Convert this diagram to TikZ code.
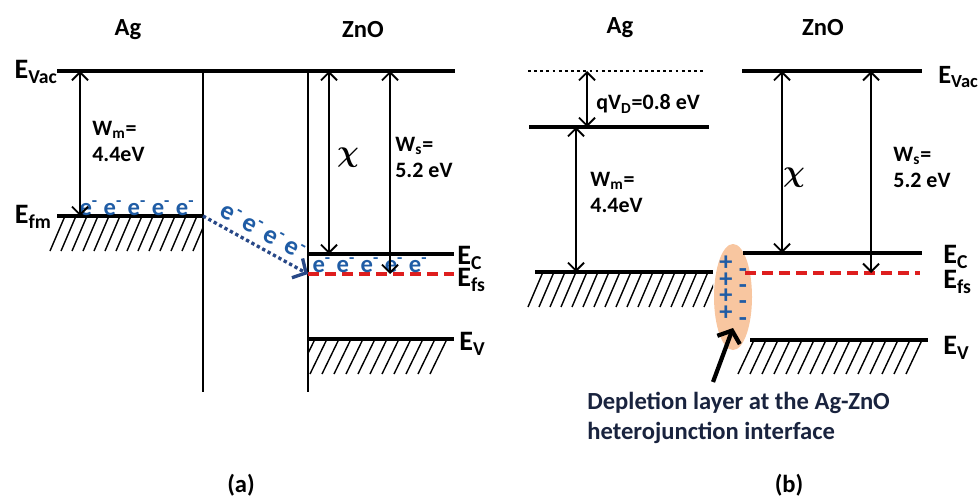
\documentclass[tikz,border=0pt]{standalone}
\usepackage{fontspec}
\setmainfont{Carlito}
\usetikzlibrary{arrows.meta,shapes.geometric}

\definecolor{eblue}{RGB}{31,92,165}
\definecolor{flowblue}{RGB}{40,72,135}
\definecolor{fsred}{RGB}{222,30,30}
\definecolor{deplfill}{RGB}{248,198,160}
\definecolor{navy}{RGB}{25,35,62}

\begin{document}
\begin{tikzpicture}[x=0.2mm, y=-0.2mm,
	>={Straight Barb[length=1.6mm,width=3.2mm]},
	level/.style={line width=1.9pt},
	wall/.style={line width=1.6pt},
	dimarr/.style={<->, line width=1.1pt},
	hatchline/.style={line width=0.8pt},
	fermi/.style={fsred, line width=1.9pt, dash pattern=on 2.2mm off 1.2mm},
	title/.style={font=\bfseries\fontsize{14}{16}\selectfont},
	elabel/.style={font=\bfseries\fontsize{16}{18}\selectfont, anchor=west, inner sep=0pt},
	wlabel/.style={font=\bfseries\fontsize{12.5}{15}\selectfont, align=left, anchor=north west, inner sep=0pt},
	chilabel/.style={font=\boldmath\fontsize{16}{18}\selectfont},
	electron/.style={font=\bfseries\fontsize{14}{15}\selectfont, text=eblue, inner sep=0pt},
	charge/.style={font=\bfseries\fontsize{15}{15}\selectfont, text=eblue, inner sep=0pt, text height=1.2ex, text depth=0pt}]
	\useasboundingbox (0,0) rectangle (979,496);
	
	% ===== (a) before contact =====
	\node[title] (agA) at (128,30) {Ag};
	\node[title] (znoA) at (363,30) {ZnO};
	
	% Vacuum level and the two walls
	\coordinate (vacA1) at (57,71); \coordinate (vacA2) at (455,71);
	\draw[level] (vacA1) -- (vacA2);
	\coordinate (wallA1) at (203,71); \coordinate (wallA2) at (203,392);
	\coordinate (wallA3) at (308,71); \coordinate (wallA4) at (308,392);
	\draw[wall] (wallA1) -- (wallA2) (wallA3) -- (wallA4);
	\node[elabel, anchor=east] (evacA) at (58,72) {E\textsubscript{Vac}};
	
	% Ag Fermi level with hatching
	\coordinate (fmA1) at (57,216); \coordinate (fmA2) at (203,216);
	\draw[level] (fmA1) -- (fmA2);
	\node[elabel, anchor=east] (efmA) at (52,217) {E\textsubscript{fm}};
	\begin{scope}
		\clip (45,216) rectangle (203,251);
		\foreach \x in {50,61,...,200} \draw[hatchline] (\x,251) -- ++(15,-35);
	\end{scope}
	\node[electron] (eAgA) at (137,208) {e\textsuperscript{-} e\textsuperscript{-} e\textsuperscript{-} e\textsuperscript{-} e\textsuperscript{-}};
	
	% ZnO levels
	\coordinate (ecA1) at (308,254); \coordinate (ecA2) at (454,254);
	\coordinate (fsA1) at (308,274); \coordinate (fsA2) at (454,274);
	\coordinate (evA1) at (308,339); \coordinate (evA2) at (454,339);
	\draw[level] (ecA1) -- (ecA2);
	\draw[fermi] (fsA1) -- (fsA2);
	\draw[level] (evA1) -- (evA2);
	\begin{scope}
		\clip (308,339) rectangle (456,374);
		\foreach \x in {298,310,...,440} \draw[hatchline] (\x,374) -- ++(17,-35);
	\end{scope}
	\node[elabel] (ecA) at (457,258) {E\textsubscript{C}};
	\node[elabel] (efsA) at (457,280) {E\textsubscript{fs}};
	\node[elabel] (evA) at (459,344) {E\textsubscript{V}};
	\node[electron] (eZnoA) at (370,265) {e\textsuperscript{-} e\textsuperscript{-} e\textsuperscript{-} e\textsuperscript{-} e\textsuperscript{-}};
	
	% Work functions and electron affinity
	\coordinate (wmA1) at (80,71); \coordinate (wmA2) at (80,216);
	\draw[dimarr] (wmA1) -- (wmA2);
	\node[wlabel] (wmA) at (92,121) {W\textsubscript{m}=\\4.4eV};
	\coordinate (chiA1) at (329,71); \coordinate (chiA2) at (329,254);
	\draw[dimarr] (chiA1) -- (chiA2);
	\node[chilabel] (chiA) at (348,158) {$\chi$};
	\coordinate (wsA1) at (390,71); \coordinate (wsA2) at (390,274);
	\draw[dimarr] (wsA1) -- (wsA2);
	\node[wlabel] (wsA) at (395,137) {W\textsubscript{s}=\\5.2 eV};
	
	% Electron flow from Ag into ZnO
	\draw[flowblue, line width=1.9pt, dash pattern=on 1.9pt off 1.6pt, -{Straight Barb[length=2mm,width=4.4mm]}]
		(fmA2) -- (fsA1) node[midway, sloped, above=1.2mm, electron, font=\bfseries\fontsize{15}{15}\selectfont] (eflowA) {e\textsuperscript{-}\,e\textsuperscript{-}\,e\textsuperscript{-}\,e\textsuperscript{-}};
	
	\node[title] (capA) at (241,485) {(a)};
	
	% ===== (b) after contact =====
	\node[title] (agB) at (620,28) {Ag};
	\node[title] (znoB) at (823,28) {ZnO};
	
	% Ag side
	\coordinate (oldB1) at (528,71); \coordinate (oldB2) at (706,71);
	\draw[line width=1.6pt, dash pattern=on 1.6pt off 1.9pt] (oldB1) -- (oldB2);
	\coordinate (vacB1) at (529,127); \coordinate (vacB2) at (709,127);
	\draw[level] (vacB1) -- (vacB2);
	\coordinate (fmB1) at (535,272); \coordinate (fmB2) at (713,272);
	\draw[level] (fmB1) -- (fmB2);
	\begin{scope}
		\clip (525,272) rectangle (713,307);
		\foreach \x in {528,539,...,710} \draw[hatchline] (\x,307) -- ++(15,-35);
	\end{scope}
	\coordinate (vdB1) at (587,71); \coordinate (vdB2) at (587,127);
	\draw[dimarr] (vdB1) -- (vdB2);
	\node[wlabel, anchor=west] (vdB) at (596,104) {qV\textsubscript{D}=0.8 eV};
	\coordinate (wmB1) at (576,127); \coordinate (wmB2) at (576,272);
	\draw[dimarr] (wmB1) -- (wmB2);
	\node[wlabel] (wmB) at (590,172) {W\textsubscript{m}=\\4.4eV};
	
	% Depletion layer at the interface
	\node[ellipse, fill=deplfill, minimum width=7.6mm, minimum height=21.2mm, inner sep=0pt] (deplB) at (733,297) {};
	\foreach \y in {265,282,298,315} \node[charge] at (726,\y) {+};
	\foreach \y in {272,288,304,321} \node[charge] at (743,\y) {-};
	
	% ZnO side
	\coordinate (vacB3) at (742,71); \coordinate (vacB4) at (922,71);
	\draw[level] (vacB3) -- (vacB4);
	\node[elabel, font=\bfseries\fontsize{15}{18}\selectfont] (evacB) at (938,77) {E\textsubscript{Vac}};
	\coordinate (ecB1) at (743,253); \coordinate (ecB2) at (922,253);
	\coordinate (fsB1) at (745,273); \coordinate (fsB2) at (920,273);
	\coordinate (evB1) at (750,340); \coordinate (evB2) at (928,340);
	\draw[level] (ecB1) -- (ecB2);
	\draw[fermi] (fsB1) -- (fsB2);
	\draw[level] (evB1) -- (evB2);
	\begin{scope}
		\clip (735,340) rectangle (928,374);
		\foreach \x in {738,750,...,915} \draw[hatchline] (\x,374) -- ++(16,-34);
	\end{scope}
	\node[elabel] (ecB) at (943,257) {E\textsubscript{C}};
	\node[elabel] (efsB) at (943,282) {E\textsubscript{fs}};
	\node[elabel] (evB) at (943,348) {E\textsubscript{V}};
	\coordinate (chiB1) at (782,71); \coordinate (chiB2) at (782,253);
	\draw[dimarr] (chiB1) -- (chiB2);
	\node[chilabel] (chiB) at (794,178) {$\chi$};
	\coordinate (wsB1) at (871,71); \coordinate (wsB2) at (871,273);
	\draw[dimarr] (wsB1) -- (wsB2);
	\node[wlabel] (wsB) at (893,147) {W\textsubscript{s}=\\5.2 eV};
	
	% Pointer to the depletion layer
	\node[font=\bfseries\fontsize{14}{17}\selectfont, text=navy, align=left, anchor=north west, inner sep=0pt] (deplTxt) at (587,392)
		{Depletion layer at the Ag-ZnO\\heterojunction interface};
	\coordinate (deplTip) at (733,328);
	\draw[line width=2.4pt, -{Straight Barb[length=2mm,width=4.8mm]}] (deplTxt.north west) ++(126,-10) -- (deplTip);
	
	\node[title] (capB) at (789,485) {(b)};
\end{tikzpicture}
\end{document}
